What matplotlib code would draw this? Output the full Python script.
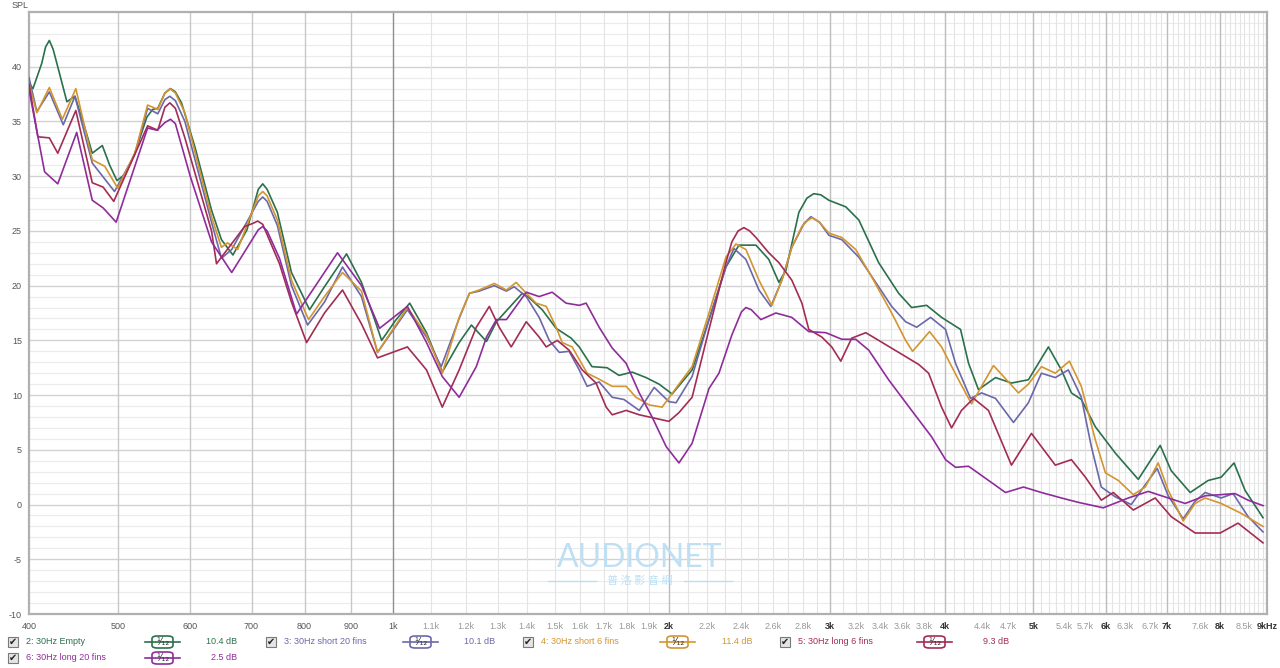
import numpy as np
import matplotlib.pyplot as plt
from matplotlib.patches import FancyBboxPatch, Rectangle
from matplotlib.lines import Line2D

plt.rcParams['font.family'] = ['Liberation Sans', 'Noto Sans CJK TC', 'DejaVu Sans']
plt.rcParams['axes.unicode_minus'] = False

# 2: 30Hz Empty
freq_empty = [400, 404, 413, 417, 421, 425, 430, 440, 449, 460, 469, 481, 490, 499, 510, 522, 538, 546, 553, 563,
              571, 578, 587, 607, 633, 649, 668, 692, 712, 720, 728, 747, 774, 810, 841, 889, 923, 954, 971, 1005,
              1042, 1087, 1131, 1180, 1217, 1264, 1296, 1332, 1383, 1407, 1454, 1506, 1564, 1596, 1648, 1712, 1764,
              1823, 1888, 1951, 2016, 2120, 2212, 2308, 2385, 2489, 2571, 2637, 2684, 2773, 2830, 2879, 2930, 2990,
              3120, 3224, 3389, 3564, 3682, 3824, 3970, 4164, 4249, 4356, 4547, 4733, 4939, 5194, 5366, 5503, 5642,
              5845, 6146, 6511, 6880, 7072, 7419, 7762, 8020, 8284, 8516, 8910]
spl_empty = [38.5, 38.0, 40.3, 41.8, 42.4, 41.6, 40.0, 36.8, 37.3, 34.5, 32.1, 32.8, 31.0, 29.6, 30.2, 32.1, 35.4,
             36.1, 36.2, 37.6, 38.0, 37.7, 36.7, 32.7, 26.9, 24.2, 22.8, 25.1, 28.8, 29.3, 28.8, 26.7, 21.2, 17.8,
             19.9, 22.9, 20.3, 16.9, 15.0, 16.8, 18.4, 15.7, 12.1, 14.8, 16.4, 14.9, 16.7, 17.8, 19.3, 18.9, 17.8,
             16.1, 15.2, 14.4, 12.6, 12.5, 11.8, 12.1, 11.6, 11.0, 10.1, 12.3, 16.9, 21.7, 23.7, 23.7, 22.4, 20.3,
             21.4, 26.7, 28.0, 28.4, 28.3, 27.8, 27.2, 26.0, 22.1, 19.3, 18.0, 18.2, 17.1, 16.0, 12.9, 10.5, 11.6,
             11.1, 11.4, 14.4, 12.3, 10.2, 9.6, 7.1, 4.7, 2.3, 5.4, 3.1, 1.1, 2.2, 2.5, 3.8, 1.3, -1.2]

# 3: 30Hz short 20 fins
freq_short20 = [400, 408, 421, 436, 449, 469, 496, 522, 539, 553, 563, 570, 578, 592, 633, 649, 666, 712, 720, 728,
                747, 774, 806, 841, 880, 923, 961, 1036, 1087, 1128, 1180, 1211, 1241, 1289, 1329, 1355, 1397, 1443,
                1480, 1518, 1556, 1596, 1628, 1678, 1734, 1786, 1856, 1927, 2000, 2036, 2120, 2212, 2308, 2355, 2427,
                2508, 2584, 2657, 2724, 2810, 2858, 2920, 2990, 3089, 3224, 3364, 3502, 3627, 3729, 3862, 4010, 4112,
                4270, 4390, 4547, 4757, 4939, 5103, 5285, 5461, 5642, 5786, 5933, 6146, 6397, 6626, 6828, 7020, 7289,
                7512, 7703, 8020, 8265, 8581, 8910]
spl_short20 = [39.0, 35.9, 37.7, 34.7, 37.3, 31.2, 28.6, 32.0, 36.2, 35.7, 37.0, 37.3, 36.9, 35.0, 25.8, 22.5, 23.3,
               27.7, 28.1, 27.7, 25.5, 20.0, 16.4, 18.5, 21.7, 19.0, 13.9, 17.8, 15.3, 12.6, 17.0, 19.3, 19.5, 20.0,
               19.5, 19.9, 19.0, 17.1, 15.0, 13.9, 14.0, 12.3, 10.8, 11.2, 9.8, 9.6, 8.6, 10.7, 9.4, 9.3, 11.7,
               16.9, 21.7, 23.4, 22.4, 19.6, 18.1, 20.5, 23.5, 25.7, 26.3, 25.8, 24.6, 24.2, 22.6, 20.3, 18.1, 16.7,
               16.2, 17.1, 16.0, 12.9, 9.7, 10.2, 9.7, 7.5, 9.3, 12.0, 11.6, 12.3, 9.8, 5.3, 1.6, 0.7, 0.0, 1.8, 3.3,
               0.8, -1.3, 0.3, 1.1, 0.6, 1.0, -1.1, -2.5]

# 4: 30Hz short 6 fins
freq_short6 = [400, 408, 421, 435, 450, 469, 484, 500, 522, 539, 553, 563, 570, 578, 592, 633, 649, 659, 676, 712,
               720, 728, 747, 774, 808, 841, 880, 923, 961, 1036, 1087, 1131, 1180, 1211, 1241, 1289, 1329, 1362,
               1397, 1432, 1469, 1506, 1529, 1568, 1628, 1665, 1734, 1796, 1841, 1903, 1966, 2051, 2120, 2212, 2308,
               2367, 2427, 2508, 2591, 2657, 2724, 2794, 2830, 2865, 2920, 2990, 3089, 3199, 3330, 3502, 3627, 3691,
               3852, 3970, 4143, 4281, 4524, 4817, 4939, 5103, 5285, 5475, 5642, 5845, 5994, 6192, 6430, 6626, 6846,
               7020, 7289, 7512, 7703, 8020, 8432, 8910]
spl_short6 = [38.4, 35.8, 38.1, 35.2, 38.0, 31.5, 30.9, 28.9, 32.1, 36.5, 36.1, 37.6, 38.0, 37.6, 35.8, 26.3, 23.5,
              23.9, 23.3, 28.2, 28.6, 28.2, 26.0, 20.5, 16.9, 19.0, 21.2, 19.5, 13.9, 18.0, 15.5, 12.0, 17.1, 19.3,
              19.6, 20.2, 19.6, 20.3, 19.3, 18.4, 18.1, 16.2, 14.8, 14.4, 12.0, 11.6, 10.8, 10.8, 9.8, 9.1, 8.9,
              11.0, 12.6, 17.5, 22.6, 23.8, 23.3, 20.5, 18.2, 20.5, 23.5, 25.4, 25.9, 26.2, 25.8, 24.8, 24.4, 23.3,
              20.8, 17.5, 15.0, 14.0, 15.8, 14.4, 11.4, 9.2, 12.7, 10.2, 11.0, 12.6, 12.0, 13.1, 10.8, 5.9, 2.9,
              2.2, 0.9, 1.6, 3.8, 1.3, -1.5, 0.1, 0.6, 0.1, -0.8, -2.0]

# 5: 30Hz long 6 fins
freq_long6 = [400, 409, 421, 430, 450, 469, 482, 495, 539, 553, 563, 570, 578, 592, 633, 641, 688, 703, 711, 720,
              751, 774, 804, 841, 880, 923, 961, 1036, 1087, 1131, 1180, 1232, 1273, 1305, 1345, 1397, 1443, 1469,
              1510, 1556, 1608, 1665, 1708, 1734, 1796, 1856, 2000, 2051, 2120, 2212, 2308, 2343, 2380, 2415, 2450,
              2489, 2571, 2637, 2724, 2794, 2843, 2938, 3012, 3081, 3167, 3281, 3389, 3564, 3748, 3843, 3970, 4071,
              4174, 4302, 4467, 4733, 4977, 5285, 5503, 5700, 5933, 6114, 6430, 6794, 7072, 7512, 8000, 8368, 8910]
spl_long6 = [38.4, 33.6, 33.5, 32.1, 36.0, 29.4, 29.0, 27.7, 34.6, 34.2, 36.3, 36.7, 36.2, 33.5, 25.0, 22.0, 25.4,
             25.7, 25.9, 25.6, 22.0, 18.5, 14.8, 17.5, 19.6, 16.5, 13.4, 14.4, 12.3, 8.9, 12.3, 16.2, 18.1, 16.2,
             14.4, 16.7, 15.3, 14.4, 15.0, 14.1, 12.3, 11.1, 8.9, 8.2, 8.6, 8.2, 7.6, 8.4, 9.8, 16.0, 22.1, 24.0,
             25.0, 25.3, 25.0, 24.4, 23.0, 22.1, 20.5, 18.4, 16.0, 15.3, 14.4, 13.1, 15.2, 15.7, 15.0, 13.9, 12.8,
             12.0, 8.9, 7.0, 8.6, 9.7, 8.6, 3.6, 6.5, 3.6, 4.1, 2.5, 0.4, 1.1, -0.5, 0.6, -1.1, -2.6, -2.6, -1.7,
             -3.5]

# 6: 30Hz long 20 fins
freq_long20 = [400, 416, 430, 451, 469, 482, 498, 539, 552, 563, 571, 578, 600, 633, 666, 712, 720, 728, 751, 784,
               869, 923, 966, 1036, 1087, 1131, 1180, 1232, 1264, 1296, 1329, 1397, 1443, 1491, 1544, 1596, 1624,
               1678, 1734, 1796, 1856, 1917, 1986, 2051, 2120, 2212, 2268, 2343, 2400, 2427, 2460, 2520, 2617, 2724,
               2843, 2968, 3089, 3199, 3306, 3475, 3682, 3871, 4010, 4112, 4249, 4434, 4662, 4878, 5103, 5366, 5600,
               5963, 6350, 6676, 7020, 7326, 7703, 8305, 8581, 8910]
spl_long20 = [37.9, 30.4, 29.3, 34.0, 27.8, 27.1, 25.8, 34.4, 34.2, 34.9, 35.2, 34.8, 30.0, 24.0, 21.2, 25.1, 25.4,
              25.0, 22.5, 17.4, 23.0, 20.0, 16.1, 18.1, 14.8, 11.7, 9.8, 12.6, 15.3, 16.9, 16.9, 19.4, 19.0, 19.4,
              18.4, 18.2, 18.4, 16.2, 14.3, 12.9, 10.2, 8.0, 5.3, 3.8, 5.6, 10.6, 12.0, 15.5, 17.6, 18.0, 17.8,
              16.9, 17.5, 17.1, 15.8, 15.7, 15.1, 15.1, 14.1, 11.4, 8.6, 6.2, 4.1, 3.4, 3.5, 2.4, 1.1, 1.6, 1.1,
              0.6, 0.2, -0.3, 0.6, 1.2, 0.6, 0.1, 0.8, 1.0, 0.4, -0.1]

names = ['2: 30Hz Empty', '3: 30Hz short 20 fins', '4: 30Hz short 6 fins', '5: 30Hz long 6 fins',
         '6: 30Hz long 20 fins']
levels = ['10.4 dB', '10.1 dB', '11.4 dB', '9.3 dB', '2.5 dB']
colors = ['#2b704c', '#6a68aa', '#d3952f', '#a32c55', '#8f2c9c']
freqs = [freq_empty, freq_short20, freq_short6, freq_long6, freq_long20]
spls = [spl_empty, spl_short20, spl_short6, spl_long6, spl_long20]

tick_freqs = [400, 500, 600, 700, 800, 900, 1000, 1100, 1200, 1300, 1400, 1500, 1600, 1700, 1800, 1900, 2000,
              2200, 2400, 2600, 2800, 3000, 3200, 3400, 3600, 3800, 4000, 4400, 4700, 5000, 5400, 5700, 6000,
              6300, 6700, 7000, 7600, 8000, 8500, 9000]
tick_labels = ['400', '500', '600', '700', '800', '900', '1k', '1.1k', '1.2k', '1.3k', '1.4k', '1.5k', '1.6k',
               '1.7k', '1.8k', '1.9k', '2k', '2.2k', '2.4k', '2.6k', '2.8k', '3k', '3.2k', '3.4k', '3.6k', '3.8k',
               '4k', '4.4k', '4.7k', '5k', '5.4k', '5.7k', '6k', '6.3k', '6.7k', '7k', '7.6k', '8k', '8.5k', '9kHz']

W, H = 1280, 668
fig = plt.figure(figsize=(W / 100, H / 100), dpi=100)
fig.patch.set_facecolor('white')
ax = fig.add_axes([29 / W, 1 - 614 / H, (1267 - 29) / W, (614 - 12) / H])
ax.set_xscale('log')
ax.set_xlim(400, 9000)
ax.set_ylim(-10, 45)

# grid
for v in range(-9, 45):
    if v % 5 == 0:
        ax.axhline(v, color='#d2d2d2', lw=1.0, zorder=0)
    else:
        ax.axhline(v, color='#ebebeb', lw=0.8, zorder=0)
for f in range(500, 9000, 100):
    if f == 1000:
        c, lw = '#8e8e8e', 1.0
    elif f < 1000:
        c, lw = '#c8c8c8', 1.0
    elif f % 1000 == 0:
        c, lw = '#bcbcbc', 1.0
    else:
        c, lw = '#e4e4e4', 0.8
    ax.axvline(f, color=c, lw=lw, zorder=0)

for f, s, c in zip(freqs, spls, colors):
    ax.plot(f, s, color=c, lw=1.2, zorder=3, solid_joinstyle='round')

ax.set_xticks(tick_freqs)
ax.set_xticklabels(tick_labels)
ax.xaxis.set_minor_locator(plt.NullLocator())
ax.set_yticks(range(-10, 45, 5))
ax.tick_params(axis='both', length=0, labelsize=6.5)
ax.tick_params(axis='x', pad=6)
ax.tick_params(axis='y', pad=5, labelcolor='#555555')
for lab in ax.get_xticklabels():
    t = lab.get_text()
    if t in ('2k', '3k', '4k', '5k', '6k', '7k', '8k', '9kHz'):
        lab.set_fontweight('bold')
        lab.set_color('#333333')
    elif t.endswith('k') and t != '1k':
        lab.set_color('#999999')
    else:
        lab.set_color('#555555')
for sp in ax.spines.values():
    sp.set_color('#b0b0b0')
    sp.set_linewidth(1.6)

fig.text(12 / W, 1 - 6 / H, 'SPL', fontsize=6.5, color='#555555', va='center')

# watermark
fig.text(640 / W, 1 - 558 / H, 'AUDIONET', fontsize=23, color='#bfe0f3', ha='center', va='center',
         family=['Lato', 'DejaVu Sans'])
fig.text(640 / W, 1 - 581 / H, '普 洛 影 音 網', fontsize=8, color='#bfe0f3', ha='center', va='center',
         family=['Noto Sans CJK TC', 'DejaVu Sans'])
fig.add_artist(Line2D([548 / W, 596 / W], [1 - 581 / H] * 2, color='#bfe0f3', lw=1))
fig.add_artist(Line2D([684 / W, 732 / W], [1 - 581 / H] * 2, color='#bfe0f3', lw=1))

# legend strip
col_x = [8, 266, 523, 780, 8]
row_y = [642, 642, 642, 642, 658]
for i in range(5):
    x0, y0, c = col_x[i], row_y[i], colors[i]
    fig.add_artist(Rectangle((x0 / W, 1 - (y0 + 5) / H), 10 / W, 10 / H, facecolor='#e4e4e4',
                             edgecolor='#7a7a7a', lw=0.8))
    fig.text((x0 + 5) / W, 1 - y0 / H, '\u2714', fontsize=7, color='#222222', ha='center', va='center',
             family=['DejaVu Sans'])
    fig.text((x0 + 18) / W, 1 - y0 / H, names[i], fontsize=6.5, color=c, va='center')
    fig.add_artist(Line2D([(x0 + 137) / W, (x0 + 172) / W], [1 - y0 / H] * 2, color=c, lw=1.2))
    fig.add_artist(FancyBboxPatch(((x0 + 144) / W, 1 - (y0 + 6) / H), 21 / W, 12 / H,
                                  boxstyle='round,pad=0,rounding_size=0.004', facecolor='white',
                                  edgecolor=c, lw=1.2))
    fig.text((x0 + 154.5) / W, 1 - y0 / H, '\u00b9\u2044\u2081\u2082', fontsize=7, color='#333333',
             ha='center', va='center', family=['DejaVu Sans'])
    fig.text((x0 + 229) / W, 1 - y0 / H, levels[i], fontsize=6.5, color=c, ha='right', va='center')

fig.savefig('out.png', dpi=100)
